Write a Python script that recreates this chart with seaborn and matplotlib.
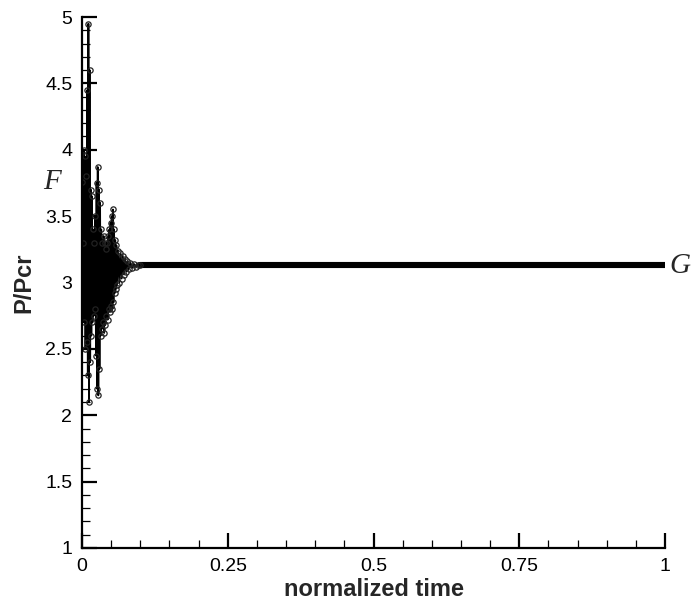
import numpy as np
import pandas as pd
import matplotlib
matplotlib.use("Agg")
import matplotlib.pyplot as plt
import seaborn as sns

# transient part: normalized time and P/Pcr
t_transient = [0.000, 0.002, 0.003, 0.004, 0.005, 0.006, 0.007, 0.008, 0.009, 0.010,
               0.011, 0.012, 0.013, 0.014, 0.015, 0.016, 0.017, 0.018, 0.019, 0.020,
               0.021, 0.022, 0.023, 0.024, 0.025, 0.026, 0.027, 0.028, 0.029, 0.030,
               0.031, 0.032, 0.033, 0.034, 0.035, 0.036, 0.037, 0.038, 0.039, 0.040,
               0.041, 0.042, 0.043, 0.044, 0.045, 0.046, 0.047, 0.048, 0.049, 0.050,
               0.051, 0.052, 0.053, 0.054, 0.055, 0.056, 0.057, 0.058, 0.059, 0.060,
               0.062, 0.064, 0.066, 0.068, 0.070, 0.072, 0.074, 0.076, 0.078, 0.080,
               0.083, 0.086, 0.089, 0.092, 0.096, 0.100]
p_transient = [3.76, 3.30, 4.00, 2.70, 3.95, 2.50, 3.80, 2.55, 4.45, 2.30,
               4.95, 2.10, 4.60, 2.40, 3.70, 2.60, 3.65, 2.70, 3.40, 2.75,
               3.30, 2.80, 3.50, 2.45, 3.75, 2.20, 3.87, 2.15, 3.70, 2.35,
               3.60, 2.60, 3.40, 2.65, 3.30, 2.70, 3.35, 2.62, 3.30, 2.68,
               3.25, 2.75, 3.30, 2.72, 3.35, 2.80, 3.40, 2.78, 3.45, 2.82,
               3.50, 2.80, 3.55, 2.85, 3.40, 2.92, 3.32, 2.95, 3.28, 2.98,
               3.24, 3.00, 3.22, 3.03, 3.20, 3.06, 3.18, 3.08, 3.16, 3.10,
               3.15, 3.11, 3.14, 3.12, 3.13, 3.13]

# steady part
t_steady = [0.10, 0.20, 0.30, 0.40, 0.50, 0.60, 0.70, 0.80, 0.90, 1.00]
p_steady = [3.13, 3.13, 3.13, 3.13, 3.13, 3.13, 3.13, 3.13, 3.13, 3.13]

x_ticks = [0, 0.25, 0.5, 0.75, 1]
x_ticklabels = ["0", "0.25", "0.5", "0.75", "1"]
y_ticks = [1, 1.5, 2, 2.5, 3, 3.5, 4, 4.5, 5]
y_ticklabels = ["1", "1.5", "2", "2.5", "3", "3.5", "4", "4.5", "5"]

sns.set_style("ticks")
plt.rcParams['font.family'] = ['Liberation Sans', 'DejaVu Sans']

fig = plt.figure(figsize=(6.93, 6.01), dpi=100)
ax = fig.add_axes([82/693, 1-548/601, (665-82)/693, (548-17)/601])

df_tr = pd.DataFrame({"t": t_transient, "P": p_transient})
df_st = pd.DataFrame({"t": t_steady, "P": p_steady})

sns.lineplot(data=df_st, x="t", y="P", ax=ax, color="black", linewidth=4.4,
             solid_capstyle="round", sort=False)
sns.lineplot(data=df_tr, x="t", y="P", ax=ax, color="black", linewidth=1.3,
             marker="o", markersize=3.8, markerfacecolor="none",
             markeredgecolor="#222222", markeredgewidth=0.9, sort=False)

ax.set_xlim(0, 1)
ax.set_ylim(1, 5)
ax.set_xticks(x_ticks)
ax.set_xticklabels(x_ticklabels)
ax.set_yticks(y_ticks)
ax.set_yticklabels(y_ticklabels)
ax.set_xticks(np.arange(0, 1.0001, 0.05), minor=True)
ax.set_yticks(np.arange(1, 5.0001, 0.1), minor=True)

for s in ["top", "right"]:
    ax.spines[s].set_visible(False)
for s in ["left", "bottom"]:
    ax.spines[s].set_linewidth(1.6)
    ax.spines[s].set_color("black")

ax.tick_params(which="major", direction="in", length=10.5, width=1.6,
               labelsize=14, colors="black", pad=7)
ax.tick_params(which="minor", direction="in", length=5.5, width=0.9, colors="black")

ax.set_xlabel("normalized time", fontsize=17, fontweight="bold", labelpad=2)
ax.set_ylabel("P/Pcr", fontsize=17, fontweight="bold", labelpad=7)

ax.text(-0.052, 3.76, "F", fontsize=21, fontstyle="italic",
        family=["Liberation Serif", "DejaVu Serif"], ha="center", va="center", clip_on=False)
ax.text(1.026, 3.125, "G", fontsize=21, fontstyle="italic",
        family=["Liberation Serif", "DejaVu Serif"], ha="center", va="center", clip_on=False)

fig.savefig("out.png", dpi=100, facecolor="white")
